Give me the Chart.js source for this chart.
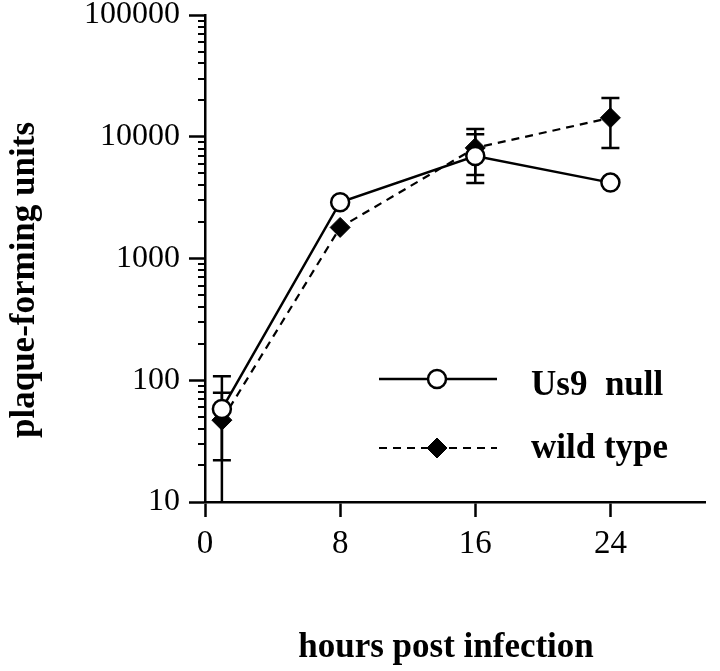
<!DOCTYPE html>
<html>
<head>
<meta charset="utf-8">
<script src="https://cdn.jsdelivr.net/npm/chart.js@4.4.1/dist/chart.umd.min.js"></script>
<style>
  html, body { margin: 0; padding: 0; background: #fff; }
</style>
</head>
<body>
<canvas id="growthChart" width="720" height="671"></canvas>
<script>
// hours post infection vs plaque-forming units
const hours = [1, 8, 16, 24];
const us9Null = [58, 2900, 6950, 4200];
const us9NullLow = [8, null, 4170, null];
const us9NullHigh = [108, null, 10500, null];
const wildType = [47, 1800, 8100, 14300];
const wildTypeLow = [22, null, 4850, 8100];
const wildTypeHigh = [79, null, 11600, 20800];
const xTicks = [0, 8, 16, 24];
const yTicks = [10, 100, 1000, 10000, 100000];

const FONT = '"Liberation Serif", "Times New Roman", serif';

// error bars, drawn under the markers
const errorBars = {
  id: "errorBars",
  beforeDatasetsDraw(chart) {
    const { ctx, chartArea, scales: { x, y } } = chart;
    ctx.save();
    ctx.beginPath();
    ctx.rect(chartArea.left, chartArea.top - 10, chartArea.width, chartArea.height + 10);
    ctx.clip();
    ctx.strokeStyle = "#000";
    ctx.lineWidth = 2.5;
    chart.data.datasets.forEach(ds => {
      hours.forEach((h, i) => {
        const lo = ds.errLow[i], hi = ds.errHigh[i];
        if (lo == null) return;
        const px = x.getPixelForValue(h);
        const top = y.getPixelForValue(hi);
        const bot = y.getPixelForValue(lo);
        ctx.beginPath();
        ctx.moveTo(px, top); ctx.lineTo(px, bot);
        ctx.moveTo(px - 9, top); ctx.lineTo(px + 9, top);
        ctx.moveTo(px - 9, bot); ctx.lineTo(px + 9, bot);
        ctx.stroke();
      });
    });
    ctx.restore();
  }
};

// minor log ticks, legend and axis titles
const decor = {
  id: "decor",
  afterDraw(chart) {
    const { ctx, chartArea, scales: { y } } = chart;
    ctx.save();
    ctx.strokeStyle = "#000";
    ctx.lineWidth = 2;
    for (let d = yTicks[0]; d < yTicks[yTicks.length - 1]; d *= 10) {
      for (let k = 2; k <= 9; k++) {
        const py = Math.round(y.getPixelForValue(d * k));
        ctx.beginPath();
        ctx.moveTo(chartArea.left - 7, py);
        ctx.lineTo(chartArea.left, py);
        ctx.stroke();
      }
    }

    // legend
    const rows = [{ ds: chart.data.datasets[0], y: 379 }, { ds: chart.data.datasets[1], y: 448 }];
    rows.forEach(r => {
      ctx.save();
      ctx.strokeStyle = "#000";
      ctx.lineWidth = r.ds.borderWidth;
      ctx.setLineDash(r.ds.borderDash || []);
      ctx.beginPath();
      ctx.moveTo(379, r.y);
      ctx.lineTo(497, r.y);
      ctx.stroke();
      ctx.setLineDash([]);
      ctx.fillStyle = r.ds.pointBackgroundColor;
      ctx.strokeStyle = "#000";
      ctx.lineWidth = r.ds.pointBorderWidth;
      Chart.helpers.drawPoint(ctx, {
        pointStyle: r.ds.pointStyle,
        radius: r.ds.pointRadius,
        borderWidth: r.ds.pointBorderWidth,
        rotation: 0
      }, 437, r.y);
      ctx.restore();
    });
    ctx.fillStyle = "#000";
    ctx.font = "bold 35px " + FONT;
    ctx.textAlign = "left";
    ctx.textBaseline = "alphabetic";
    ctx.fillText("Us9  null", 531, 395);
    ctx.fillText("wild type", 531, 458);

    // axis titles
    ctx.font = "bold 35px " + FONT;
    ctx.textAlign = "center";
    ctx.fillText("hours post infection", 446, 657);
    ctx.translate(25, 280);
    ctx.rotate(-Math.PI / 2);
    ctx.textBaseline = "middle";
    ctx.fillText("plaque-forming units", 0, 0);
    ctx.restore();
  }
};

const ctx = document.getElementById("growthChart").getContext("2d");

new Chart(ctx, {
  type: "line",
  data: {
    datasets: [
      {
        label: "Us9 null",
        data: hours.map((h, i) => ({ x: h, y: us9Null[i] })),
        errLow: us9NullLow,
        errHigh: us9NullHigh,
        borderColor: "#000",
        borderWidth: 2.5,
        pointStyle: "circle",
        pointRadius: 9,
        pointBorderWidth: 2.5,
        pointBorderColor: "#000",
        pointBackgroundColor: "#fff",
        tension: 0,
        fill: false
      },
      {
        label: "wild type",
        data: hours.map((h, i) => ({ x: h, y: wildType[i] })),
        errLow: wildTypeLow,
        errHigh: wildTypeHigh,
        borderColor: "#000",
        borderWidth: 2.2,
        borderDash: [8, 6],
        pointStyle: "rectRot",
        pointRadius: 10,
        pointBorderWidth: 1,
        pointBorderColor: "#000",
        pointBackgroundColor: "#000",
        tension: 0,
        fill: false
      }
    ]
  },
  options: {
    responsive: false,
    animation: false,
    layout: { padding: { top: 15, right: 15, left: 0, bottom: 0 } },
    plugins: {
      legend: { display: false },
      tooltip: { enabled: false }
    },
    scales: {
      x: {
        type: "linear",
        min: 0,
        max: 29.6,
        afterBuildTicks: (scale) => { scale.ticks = xTicks.map(v => ({ value: v })); },
        afterFit: (scale) => {
          scale.height = 169;
          scale.paddingLeft = 0;
          scale.paddingRight = 0;
        },
        ticks: {
          color: "#000",
          font: { family: FONT, size: 33 },
          padding: 8,
          maxRotation: 0
        },
        grid: {
          drawOnChartArea: false,
          drawTicks: true,
          tickLength: 15,
          tickWidth: 2.5,
          tickColor: "#000"
        },
        border: { display: true, color: "#000", width: 2.5 }
      },
      y: {
        type: "logarithmic",
        min: 10,
        max: 100000,
        afterBuildTicks: (scale) => { scale.ticks = yTicks.map(v => ({ value: v, major: true })); },
        afterFit: (scale) => {
          scale.width = 205;
          scale.paddingTop = 0;
          scale.paddingBottom = 0;
        },
        ticks: {
          color: "#000",
          font: { family: FONT, size: 32 },
          padding: 9,
          callback: (v) => String(v)
        },
        grid: {
          drawOnChartArea: false,
          drawTicks: true,
          tickLength: 16,
          tickWidth: 2.5,
          tickColor: "#000"
        },
        border: { display: true, color: "#000", width: 2.5 }
      }
    }
  },
  plugins: [errorBars, decor]
});
</script>
</body>
</html>
